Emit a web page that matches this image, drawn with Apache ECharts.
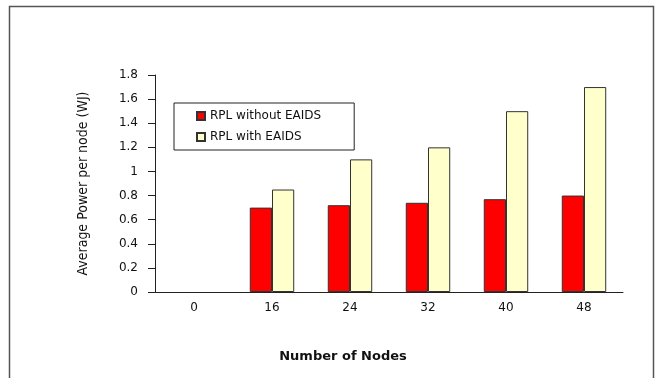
<!DOCTYPE html>
<html><head><meta charset="utf-8">
<script src="https://cdn.jsdelivr.net/npm/echarts@6/dist/echarts.min.js"></script>
<style>html,body{margin:0;padding:0;background:#fff}#c{width:657px;height:378px}</style>
</head><body><div id="c"></div>
<script>
const categories = ['0', '16', '24', '32', '40', '48'];
const withoutEAIDS = [null, 0.70, 0.72, 0.74, 0.77, 0.80];
const withEAIDS = [null, 0.85, 1.10, 1.20, 1.50, 1.70];
const seriesNames = ['RPL without EAIDS', 'RPL with EAIDS'];
const yAxisTitle = 'Average Power per node (WJ)';
const xAxisTitle = 'Number of Nodes';

const chart = echarts.init(document.getElementById('c'), null, {renderer: 'canvas'});
const font = 'DejaVu Sans';
chart.setOption({
  animation: false,
  backgroundColor: '#fff',
  graphic: [{
    type: 'rect', shape: {x: 9.5, y: 6.5, width: 644, height: 400},
    style: {fill: 'none', stroke: '#555', lineWidth: 1.5}, z: -1
  }],
  title: {
    text: xAxisTitle, left: 338, top: 345, textAlign: 'center',
    textStyle: {fontFamily: font, fontWeight: 'bold', fontSize: 13, color: '#111'}
  },
  legend: {
    left: 174, top: 103, orient: 'vertical',
    icon: 'rect',
    itemWidth: 8, itemHeight: 8, itemGap: 9,
    padding: [7, 33, 7, 22],
    borderColor: '#222', borderWidth: 1,
    textStyle: {fontFamily: font, fontSize: 12, color: '#111'},
    data: seriesNames
  },
  grid: {left: 155, right: 34, top: 75, bottom: 86},
  xAxis: {
    type: 'category', data: categories,
    axisLine: {lineStyle: {color: '#222', width: 1}},
    axisTick: {length: 4, lineStyle: {color: '#222'}},
    axisLabel: {fontFamily: font, fontSize: 12, color: '#111', margin: 10}
  },
  yAxis: {
    type: 'value', min: 0, max: 1.8, interval: 0.2,
    name: yAxisTitle, nameLocation: 'middle', nameGap: 65,
    nameTextStyle: {fontFamily: 'DejaVu Sans Condensed, Liberation Sans, sans-serif', fontSize: 14, color: '#111'},
    axisLine: {show: true, lineStyle: {color: '#222', width: 1}},
    axisTick: {show: true, length: 7, lineStyle: {color: '#222'}},
    splitLine: {show: false},
    axisLabel: {fontFamily: font, fontSize: 12, color: '#111', margin: 17,
      formatter: v => String(Math.round(v * 10) / 10)}
  },
  series: [
    {name: seriesNames[0], type: 'bar', data: withoutEAIDS, barGap: '0%', barCategoryGap: '43%',
      itemStyle: {color: '#FF0000', borderColor: '#333', borderWidth: 1}},
    {name: seriesNames[1], type: 'bar', data: withEAIDS, barGap: '0%', barCategoryGap: '43%',
      itemStyle: {color: '#FFFFCC', borderColor: '#333', borderWidth: 1}}
  ]
});
</script></body></html>
